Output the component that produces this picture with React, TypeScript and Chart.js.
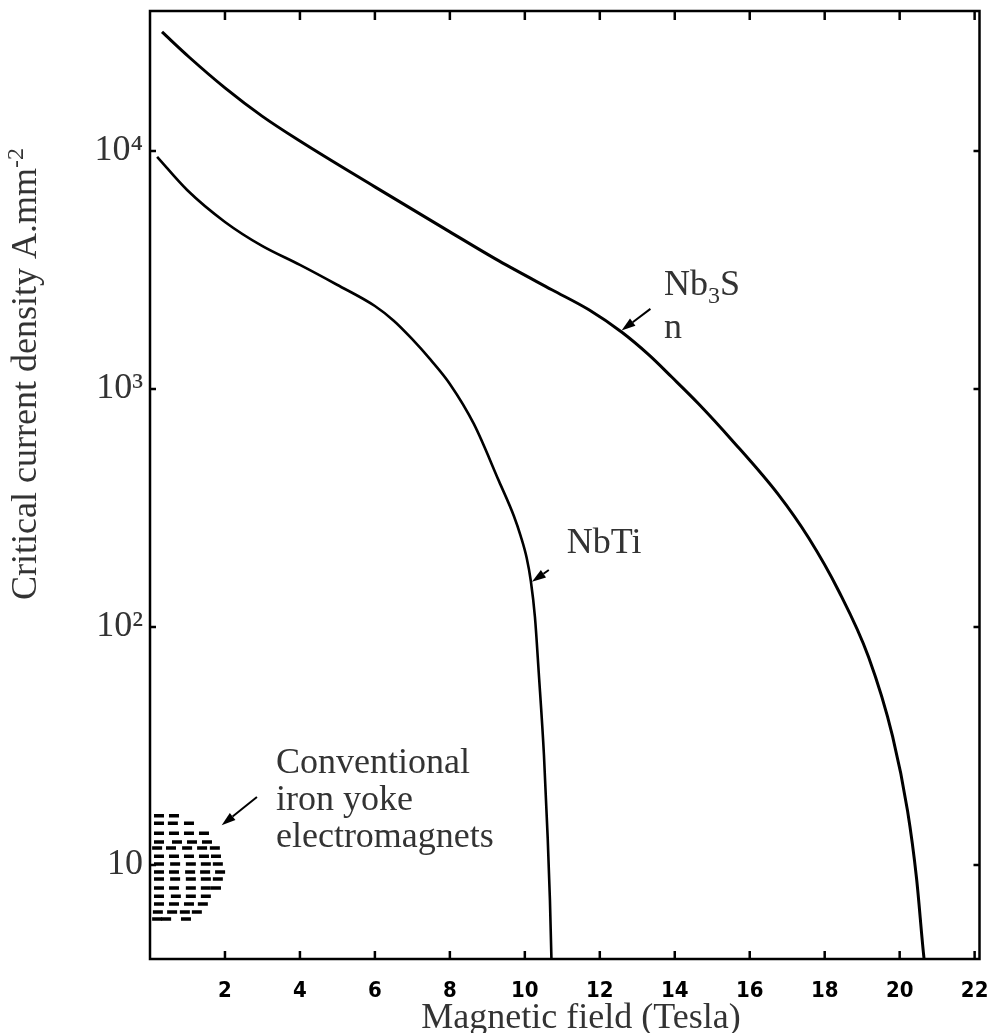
import React, { useEffect, useRef } from 'react';
import { Chart, registerables } from 'chart.js';
Chart.register(...registerables);

// Nb3Sn critical current density curve (field in Tesla, Jc in A/mm^2)
const nb3snField = [0.32, 1.04, 2.0, 2.99, 4.0, 6.0, 8.0, 9.31, 10.72, 11.71, 12.59, 13.31, 13.92, 14.64, 15.52, 16.77, 17.57, 18.37, 19.17, 19.81, 20.21, 20.45, 20.64, 20.7];
const nb3snJc = [31600, 24800, 18400, 14000, 11000, 7060, 4570, 3450, 2610, 2150, 1730, 1390, 1122, 865, 611, 359, 237, 142, 74.8, 34.8, 16.9, 8.8, 4.19, 3.5];

// NbTi critical current density curve
const nbtiField = [0.19, 0.99, 2.0, 2.99, 4.0, 4.99, 6.0, 6.51, 6.99, 7.49, 8.0, 8.64, 9.31, 9.71, 9.89, 10.05, 10.16, 10.27, 10.37, 10.51, 10.61, 10.67, 10.71, 10.73];
const nbtiJc = [9440, 6850, 5030, 3990, 3320, 2740, 2230, 1930, 1622, 1324, 1050, 713, 410, 292, 241, 195, 156, 110, 64.7, 29, 13, 7.1, 4.03, 2.7];

// Conventional iron-yoke electromagnets: dashes in the hatched blob
const ironField = [
  0.24, 0.64,
  0.24, 0.61, 1.04,
  0.24, 0.64, 1.04, 1.44,
  0.24, 0.72, 1.12, 1.52,
  0.19, 0.56, 0.99, 1.39, 1.73,
  0.24, 0.64, 1.04, 1.44, 1.76,
  0.24, 0.67, 1.09, 1.49, 1.81,
  0.24, 0.64, 1.07, 1.47, 1.87,
  0.24, 0.67, 1.09, 1.49, 1.81,
  0.24, 0.64, 1.09, 1.49, 1.76,
  0.24, 0.69, 1.09, 1.49,
  0.24, 0.64, 1.04, 1.41,
  0.21, 0.59, 0.93, 1.25,
  0.19, 0.43, 0.96,
];
const ironJc = [
  16.1, 16.1,
  15.0, 15.0, 15.0,
  13.6, 13.6, 13.6, 13.6,
  12.5, 12.5, 12.5, 12.5,
  11.8, 11.8, 11.8, 11.8, 11.8,
  10.9, 10.9, 10.9, 10.9, 10.9,
  10.1, 10.1, 10.1, 10.1, 10.1,
  9.35, 9.35, 9.35, 9.35, 9.35,
  8.74, 8.74, 8.74, 8.74, 8.74,
  8.0, 8.0, 8.0, 8.0, 8.0,
  7.4, 7.4, 7.4, 7.4,
  6.86, 6.86, 6.86, 6.86,
  6.35, 6.35, 6.35, 6.35,
  5.93, 5.93, 5.93,
];

const xTicks = [2, 4, 6, 8, 10, 12, 14, 16, 18, 20, 22];
const yTicks = [10, 100, 1000, 10000];
const yTickLabels = ['10', '10²', '10³', '10⁴'];

const xTitle = 'Magnetic field (Tesla)';
const yTitleMain = 'Critical current density A.mm';
const yTitleSup = '-2';

// annotation labels (anchor in data coordinates: field, Jc)
const nb3snLabelPos = [13.71, 2484];
const nb3snLabelPos2 = [13.71, 1637];
const nbtiLabelPos = [11.12, 205];
const ironLabels = ['Conventional', 'iron yoke', 'electromagnets'];
const ironLabelField = 3.36;
const ironLabelJc = [24.4, 17.0, 11.9];

// arrows: [tailField, tailJc, tipField, tipJc]
const arrows = [
  [13.35, 2170, 12.58, 1758],
  [10.64, 173.6, 10.19, 155],
  [2.853, 19.3, 1.912, 14.7],
];

const SERIF = "'Liberation Serif', 'Times New Roman', serif";
const TEXT = '#333';

function toPairs(xs: number[], ys: number[]) {
  return xs.map((x, i) => ({ x, y: ys[i] }));
}

const decorPlugin = {
  id: 'decor',
  afterDraw(chart: any) {
    const { ctx, chartArea: a } = chart;
    const x = chart.scales.x;
    const y = chart.scales.y;
    ctx.save();
    ctx.strokeStyle = '#000';
    ctx.lineWidth = 2.5;
    ctx.strokeRect(a.left, a.top, a.right - a.left, a.bottom - a.top);
    ctx.lineWidth = 2.5;
    ctx.beginPath();
    xTicks.forEach((v) => {
      const px = x.getPixelForValue(v);
      if (px > a.right - 4) return;
      ctx.moveTo(px, a.bottom);
      ctx.lineTo(px, a.bottom - 8);
      ctx.moveTo(px, a.top);
      ctx.lineTo(px, a.top + 9);
    });
    yTicks.forEach((v) => {
      const py = y.getPixelForValue(v);
      ctx.moveTo(a.left, py);
      ctx.lineTo(a.left + 6, py);
      ctx.moveTo(a.right, py);
      ctx.lineTo(a.right - 6, py);
    });
    ctx.stroke();

    // arrows
    arrows.forEach(([tf, tj, hf, hj]) => {
      const x1 = x.getPixelForValue(tf);
      const y1 = y.getPixelForValue(tj);
      const x2 = x.getPixelForValue(hf);
      const y2 = y.getPixelForValue(hj);
      const ang = Math.atan2(y2 - y1, x2 - x1);
      const hl = 14;
      const hw = 4.5;
      const bx = x2 - hl * Math.cos(ang);
      const by = y2 - hl * Math.sin(ang);
      ctx.strokeStyle = '#000';
      ctx.lineWidth = 2;
      ctx.beginPath();
      ctx.moveTo(x1, y1);
      ctx.lineTo(bx, by);
      ctx.stroke();
      ctx.fillStyle = '#000';
      ctx.beginPath();
      ctx.moveTo(x2, y2);
      ctx.lineTo(bx + hw * Math.sin(ang), by - hw * Math.cos(ang));
      ctx.lineTo(bx - hw * Math.sin(ang), by + hw * Math.cos(ang));
      ctx.closePath();
      ctx.fill();
    });

    // text annotations
    ctx.fillStyle = TEXT;
    ctx.textBaseline = 'alphabetic';
    ctx.textAlign = 'left';
    const big = `36px ${SERIF}`;
    const small = `24px ${SERIF}`;
    {
      let px = x.getPixelForValue(nb3snLabelPos[0]);
      const py = y.getPixelForValue(nb3snLabelPos[1]);
      ctx.font = big;
      ctx.fillText('Nb', px, py);
      px += ctx.measureText('Nb').width;
      ctx.font = small;
      ctx.fillText('3', px, py + 8);
      px += ctx.measureText('3').width;
      ctx.font = big;
      ctx.fillText('S', px, py);
      ctx.fillText('n', x.getPixelForValue(nb3snLabelPos2[0]), y.getPixelForValue(nb3snLabelPos2[1]));
      ctx.fillText('NbTi', x.getPixelForValue(nbtiLabelPos[0]), y.getPixelForValue(nbtiLabelPos[1]));
      ironLabels.forEach((t, i) => {
        ctx.fillText(t, x.getPixelForValue(ironLabelField), y.getPixelForValue(ironLabelJc[i]));
      });
    }

    // x title
    ctx.font = `36px ${SERIF}`;
    ctx.textAlign = 'center';
    ctx.fillText(xTitle, 581, 1028);

    // y title rotated
    ctx.save();
    ctx.translate(36, 374);
    ctx.rotate(-Math.PI / 2);
    ctx.font = big;
    const w1 = ctx.measureText(yTitleMain).width;
    ctx.font = small;
    const w2 = ctx.measureText(yTitleSup).width;
    const start = -(w1 + w2) / 2;
    ctx.textAlign = 'left';
    ctx.font = big;
    ctx.fillText(yTitleMain, start, 0);
    ctx.font = small;
    ctx.fillText(yTitleSup, start + w1, -13);
    ctx.restore();

    ctx.restore();
  },
};

export default function App() {
  const ref = useRef<HTMLCanvasElement | null>(null);
  useEffect(() => {
    if (!ref.current) return;
    const chart = new Chart(ref.current, {
      type: 'line',
      data: {
        datasets: [
          {
            label: 'Nb3Sn',
            data: toPairs(nb3snField, nb3snJc),
            borderColor: '#000',
            borderWidth: 3,
            pointRadius: 0,
            cubicInterpolationMode: 'monotone',
            fill: false,
          },
          {
            label: 'NbTi',
            data: toPairs(nbtiField, nbtiJc),
            borderColor: '#000',
            borderWidth: 2.6,
            pointRadius: 0,
            cubicInterpolationMode: 'monotone',
            fill: false,
          },
          {
            label: 'Conventional iron yoke electromagnets',
            data: toPairs(ironField, ironJc),
            showLine: false,
            pointStyle: 'line',
            pointRadius: 5,
            pointBorderWidth: 3.5,
            borderColor: '#000',
            backgroundColor: '#000',
          },
        ],
      },
      options: {
        responsive: false,
        animation: false,
        devicePixelRatio: 1,
        layout: { padding: { left: 0, right: 7, top: 11, bottom: 0 } },
        plugins: { legend: { display: false }, tooltip: { enabled: false } },
        scales: {
          x: {
            type: 'linear',
            min: 0,
            max: 22.13,
            bounds: 'data',
            afterBuildTicks: (s: any) => {
              s.ticks = xTicks.map((v) => ({ value: v }));
            },
            afterFit: (s: any) => {
              s.height = 74;
              s.paddingLeft = 0;
              s.paddingRight = 0;
            },
            grid: { display: false, drawTicks: false },
            border: { display: false },
            ticks: {
              padding: 19,
              autoSkip: false,
              maxRotation: 0,
              color: '#000',
              font: { family: "'Liberation Sans Narrow', 'DejaVu Sans Condensed', sans-serif", size: 22, weight: 'bold' },
              callback: (v: any) => String(v),
            },
          },
          y: {
            type: 'logarithmic',
            min: 4.03,
            max: 38700,
            bounds: 'data',
            afterBuildTicks: (s: any) => {
              s.ticks = yTicks.map((v) => ({ value: v }));
            },
            afterFit: (s: any) => {
              s.width = 150;
              s.paddingTop = 0;
              s.paddingBottom = 0;
            },
            grid: { display: false, drawTicks: false },
            border: { display: false },
            ticks: {
              padding: 7,
              autoSkip: false,
              color: TEXT,
              font: { family: SERIF, size: 36 },
              callback: (v: any) => {
                const i = yTicks.indexOf(Number(v));
                return i >= 0 ? yTickLabels[i] : '';
              },
            },
          },
        },
      },
      plugins: [decorPlugin],
    });
    return () => chart.destroy();
  }, []);
  return (
    <div style={{ position: 'absolute', left: 0, top: 0, width: 988, height: 1033, background: '#fff' }}>
      <canvas ref={ref} width={988} height={1033} style={{ display: 'block' }} />
    </div>
  );
}
